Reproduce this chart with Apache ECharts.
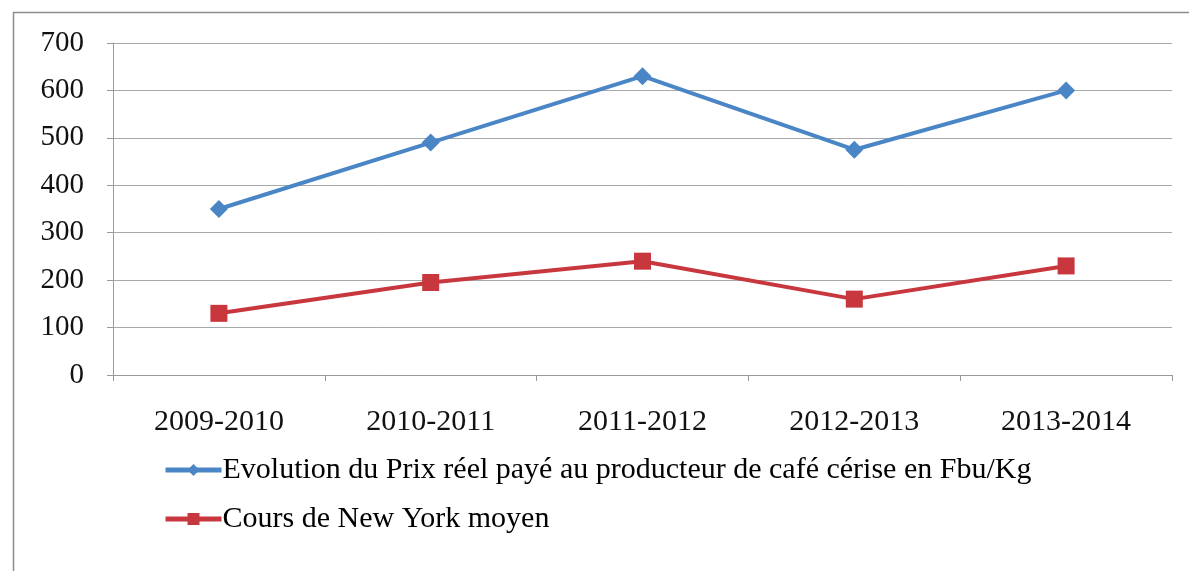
<!DOCTYPE html>
<html>
<head>
<meta charset="utf-8">
<script src="https://cdn.jsdelivr.net/npm/echarts@6/dist/echarts.min.js"></script>
<style>
  html, body { margin: 0; padding: 0; background: #fff; }
  #chart { width: 1189px; height: 571px; }
</style>
</head>
<body>
<div id="chart"></div>
<script>
var campagnes = ['2009-2010', '2010-2011', '2011-2012', '2012-2013', '2013-2014'];
var prixProducteur = [350, 490, 630, 475, 600];
var coursNewYork = [130, 195, 240, 160, 230];
var nomPrix = 'Evolution du Prix réel payé au producteur de café cérise en Fbu/Kg';
var nomCours = 'Cours de New York moyen';

var chart = echarts.init(document.getElementById('chart'));

var serif = 'Liberation Serif, Times New Roman, serif';

var option = {
  animation: false,
  backgroundColor: '#fff',
  graphic: [{
    type: 'rect',
    shape: { x: 13.5, y: 12.5, width: 1200, height: 600 },
    style: { fill: 'none', stroke: '#8c8c8c', lineWidth: 1.5 },
    z: -1
  }],
  grid: { left: 113, right: 17, top: 43, bottom: 196 },
  legend: {
    orient: 'vertical',
    left: 158,
    top: 450,
    itemWidth: 56,
    itemHeight: 15,
    itemGap: 19,
    data: [nomPrix, nomCours],
    lineStyle: { width: 5 },
    textStyle: {
      fontFamily: serif,
      fontSize: 30,
      color: '#000',
      padding: [0, 0, 0, -4]
    }
  },
  xAxis: {
    type: 'category',
    data: campagnes,
    boundaryGap: true,
    axisLine: { lineStyle: { color: '#9a9a9a', width: 1 } },
    axisTick: { show: true, length: 6, lineStyle: { color: '#9a9a9a' } },
    axisLabel: {
      margin: 32,
      fontFamily: serif,
      fontSize: 30,
      color: '#111'
    }
  },
  yAxis: {
    type: 'value',
    min: 0,
    max: 700,
    interval: 100,
    axisLine: { show: true, lineStyle: { color: '#9a9a9a', width: 1 } },
    axisTick: { show: true, length: 6, lineStyle: { color: '#9a9a9a' } },
    splitLine: { lineStyle: { color: '#a8a8a8', width: 1 } },
    axisLabel: {
      margin: 29,
      fontFamily: serif,
      fontSize: 29,
      color: '#111'
    }
  },
  series: [{
    name: nomPrix,
    type: 'line',
    data: prixProducteur,
    symbol: 'diamond',
    symbolSize: 18,
    lineStyle: { color: '#4a86c5', width: 4 },
    itemStyle: { color: '#4a86c5' }
  }, {
    name: nomCours,
    type: 'line',
    data: coursNewYork,
    symbol: 'rect',
    symbolSize: 17,
    lineStyle: { color: '#c8373e', width: 4 },
    itemStyle: { color: '#c8373e' }
  }]
};

chart.setOption(option);
</script>
</body>
</html>
